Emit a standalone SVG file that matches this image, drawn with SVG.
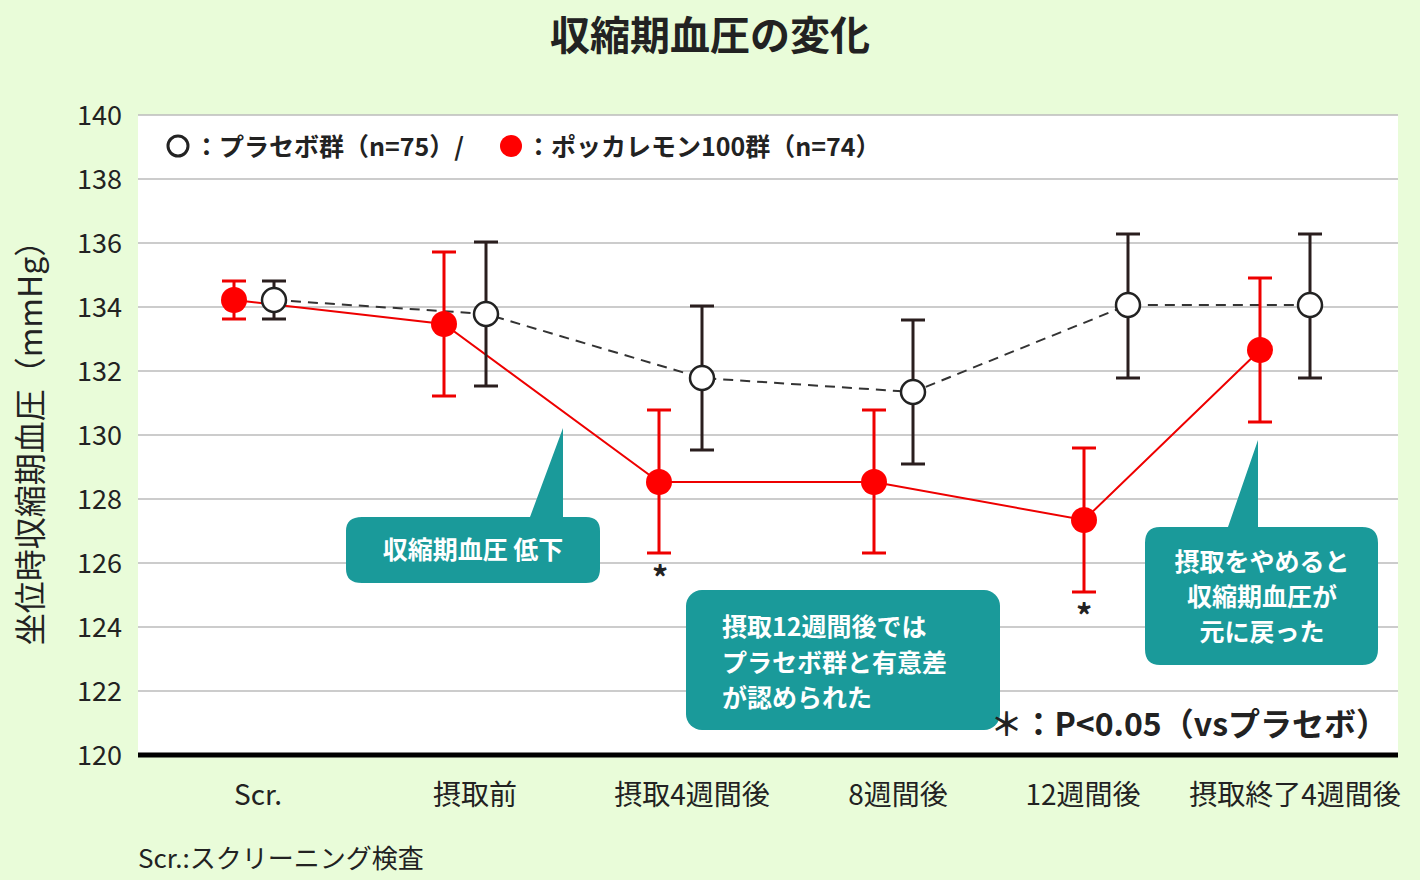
<svg xmlns="http://www.w3.org/2000/svg" width="1420" height="880" viewBox="0 0 1420 880">
<style>
text{font-family:"Noto Sans CJK JP","Noto Sans",sans-serif;fill:#222}
.grid{stroke:#bbb;stroke-width:1.5}
.tick{font-size:27px;text-anchor:end}
.xl{font-size:28px;text-anchor:middle}
.call{fill:#1a9a9a}
.ct{fill:#fff;font-size:25px;font-weight:bold}
.rb{stroke:#e00;stroke-width:3;fill:none}
.kb{stroke:#2a1e1e;stroke-width:3;fill:none}
</style>
<rect width="1420" height="880" fill="#e9fcd9"/>
<text x="710" y="50" font-size="40" font-weight="bold" text-anchor="middle">収縮期血圧の変化</text>
<rect x="138" y="115" width="1260" height="640" fill="#fff"/>
<g id="grid">
<line class="grid" x1="138" y1="115" x2="1398" y2="115"/><line class="grid" x1="138" y1="179" x2="1398" y2="179"/>
<line class="grid" x1="138" y1="243" x2="1398" y2="243"/><line class="grid" x1="138" y1="307" x2="1398" y2="307"/>
<line class="grid" x1="138" y1="371" x2="1398" y2="371"/><line class="grid" x1="138" y1="435" x2="1398" y2="435"/>
<line class="grid" x1="138" y1="499" x2="1398" y2="499"/><line class="grid" x1="138" y1="563" x2="1398" y2="563"/>
<line class="grid" x1="138" y1="627" x2="1398" y2="627"/><line class="grid" x1="138" y1="691" x2="1398" y2="691"/>
<line x1="138" y1="755" x2="1398" y2="755" stroke="#000" stroke-width="5"/>
</g>
<g id="yticks">
<text class="tick" x="122" y="125">140</text><text class="tick" x="122" y="189">138</text><text class="tick" x="122" y="253">136</text>
<text class="tick" x="122" y="317">134</text><text class="tick" x="122" y="381">132</text><text class="tick" x="122" y="445">130</text>
<text class="tick" x="122" y="509">128</text><text class="tick" x="122" y="573">126</text><text class="tick" x="122" y="637">124</text>
<text class="tick" x="122" y="701">122</text><text class="tick" x="122" y="765">120</text>
</g>
<text transform="translate(42,435) rotate(-90)" font-size="32" text-anchor="middle">坐位時収縮期血圧（mmHg）</text>
<g id="xlabels">
<text class="xl" x="258" y="805">Scr.</text><text class="xl" x="475" y="805">摂取前</text><text class="xl" x="692" y="805">摂取4週間後</text>
<text class="xl" x="898" y="805">8週間後</text><text class="xl" x="1083" y="805">12週間後</text><text class="xl" x="1295" y="805">摂取終了4週間後</text>
</g>
<text x="138" y="868" font-size="26">Scr.:スクリーニング検査</text>
<g id="legend">
<circle cx="178" cy="146" r="10" fill="#fff" stroke="#222" stroke-width="3"/>
<text x="194" y="156" font-size="25" font-weight="bold">：プラセボ群（n=75）/</text>
<circle cx="511" cy="146" r="11" fill="#f00"/>
<text x="526" y="156" font-size="25" font-weight="bold">：ポッカレモン100群（n=74）</text>
</g>
<g id="connectors">
<polyline points="274,300 486,314 702,378 913,392 1128,305 1310,305" fill="none" stroke="#333" stroke-width="2" stroke-dasharray="10,7"/>
<polyline points="234,300 444,324 659,482 874,482 1084,520 1260,350" fill="none" stroke="#e00" stroke-width="2"/>
<path class="kb" d="M274,281V319M262,281H286M262,319H286M486,242V386M474,242H498M474,386H498M702,306V450M690,306H714M690,450H714M913,320V464M901,320H925M901,464H925M1128,234V378M1116,234H1140M1116,378H1140M1310,234V378M1298,234H1322M1298,378H1322"/>
<path class="rb" d="M234,281V319M222,281H246M222,319H246M444,252V396M432,252H456M432,396H456M659,410V553M647,410H671M647,553H671M874,410V553M862,410H886M862,553H886M1084,448V592M1072,448H1096M1072,592H1096M1260,278V422M1248,278H1272M1248,422H1272"/>
</g>
<g id="points">
<circle cx="274" cy="300" r="12" fill="#fff" stroke="#222" stroke-width="2.5"/><circle cx="486" cy="314" r="12" fill="#fff" stroke="#222" stroke-width="2.5"/>
<circle cx="702" cy="378" r="12" fill="#fff" stroke="#222" stroke-width="2.5"/><circle cx="913" cy="392" r="12" fill="#fff" stroke="#222" stroke-width="2.5"/>
<circle cx="1128" cy="305" r="12" fill="#fff" stroke="#222" stroke-width="2.5"/><circle cx="1310" cy="305" r="12" fill="#fff" stroke="#222" stroke-width="2.5"/>
<circle cx="234" cy="300" r="13" fill="#f00"/><circle cx="444" cy="324" r="13" fill="#f00"/><circle cx="659" cy="482" r="13" fill="#f00"/>
<circle cx="874" cy="482" r="13" fill="#f00"/><circle cx="1084" cy="520" r="13" fill="#f00"/><circle cx="1260" cy="350" r="13" fill="#f00"/>
</g>
<text x="660" y="590" font-size="32" font-weight="bold" text-anchor="middle">*</text>
<text x="1084" y="628" font-size="32" font-weight="bold" text-anchor="middle">*</text>
<g id="callout1">
<path class="call" d="M362,517H530L563,428L563,517H586Q600,517 600,531V569Q600,583 586,583H362Q346,583 346,569V531Q346,517 362,517Z"/>
<text class="ct" x="473" y="559" text-anchor="middle">収縮期血圧 低下</text>
</g>
<g id="callout2">
<rect class="call" x="686" y="590" width="314" height="140" rx="16"/>
<text class="ct" x="722" y="636">摂取12週間後では</text>
<text class="ct" x="722" y="672">プラセボ群と有意差</text>
<text class="ct" x="722" y="707">が認められた</text>
</g>
<g id="callout3">
<path class="call" d="M1160,527H1228L1258,440L1258,527H1362Q1378,527 1378,543V649Q1378,665 1362,665H1160Q1145,665 1145,649V543Q1145,527 1160,527Z"/>
<text class="ct" x="1262" y="571" text-anchor="middle">摂取をやめると</text>
<text class="ct" x="1262" y="606" text-anchor="middle">収縮期血圧が</text>
<text class="ct" x="1262" y="641" text-anchor="middle">元に戻った</text>
</g>
<rect x="1005" y="700" width="390" height="48" fill="#fff"/>
<text x="1388" y="736" font-size="32" font-weight="bold" text-anchor="end">＊：P&lt;0.05（vsプラセボ）</text>
</svg>
